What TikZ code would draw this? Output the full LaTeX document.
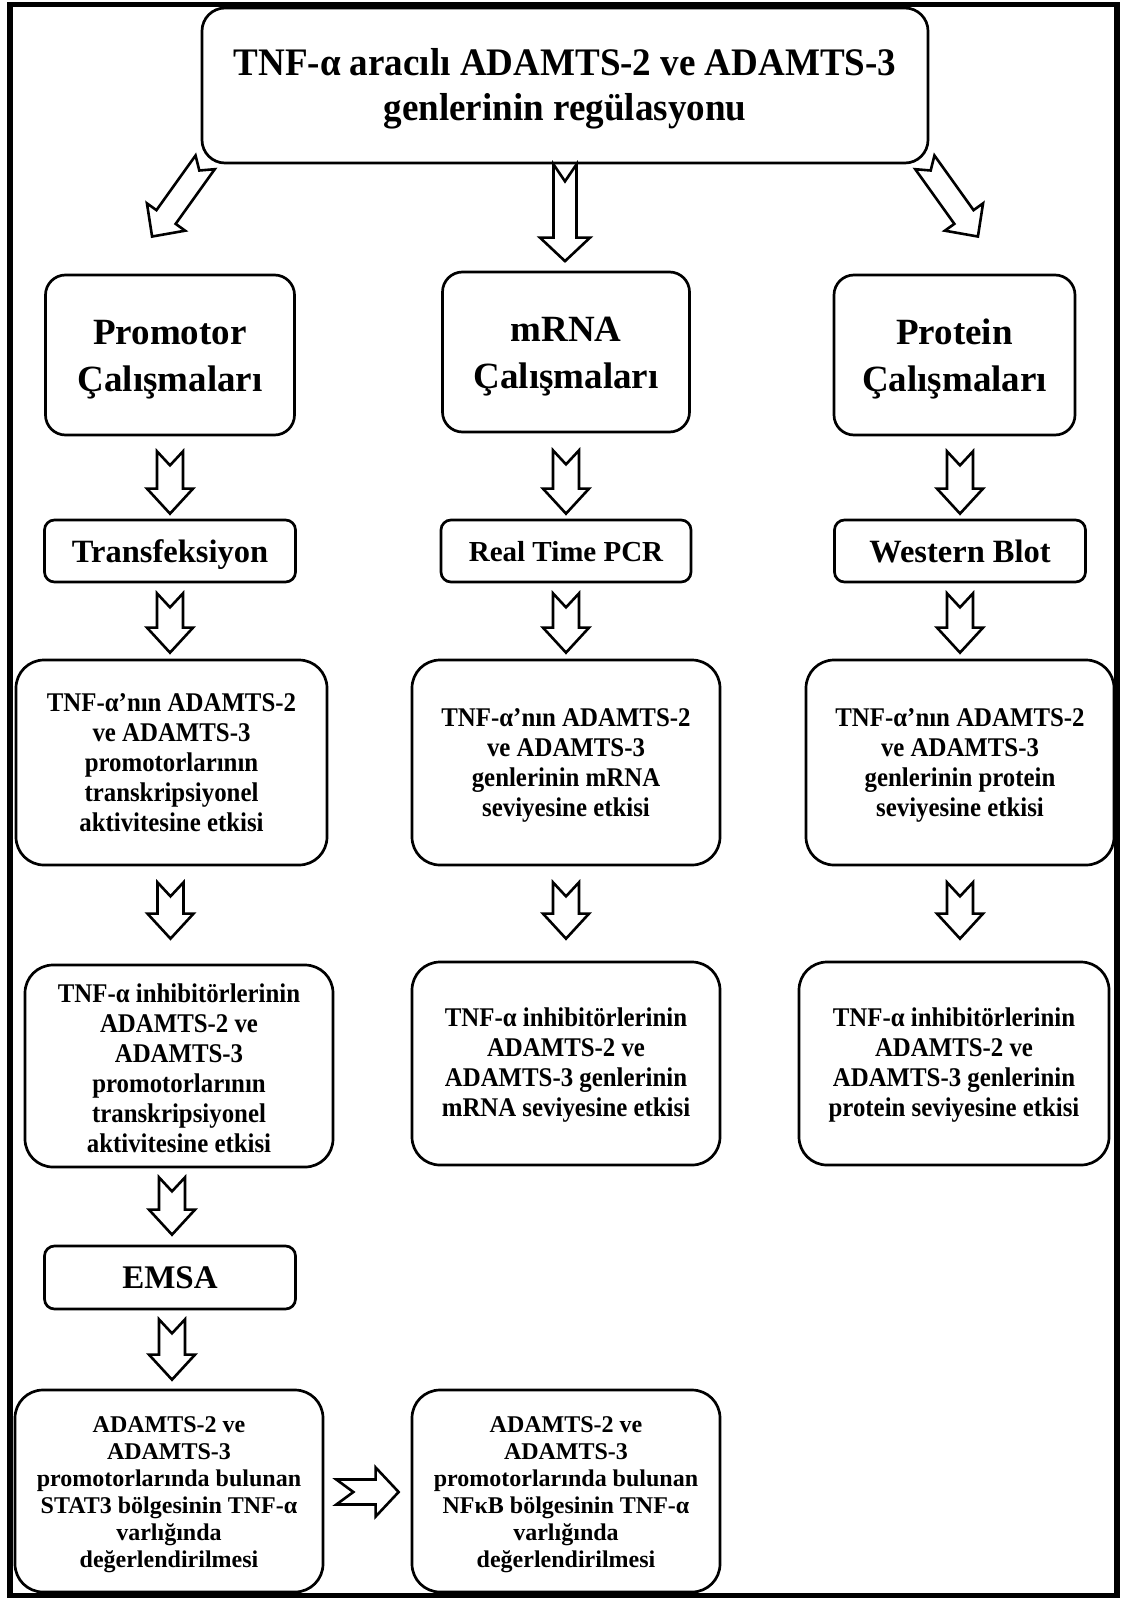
\documentclass[tikz,border=0pt]{standalone}
\usepackage{fontspec}
\setmainfont{Liberation Serif}
\newfontfamily\condfont[FakeStretch=0.92]{Liberation Serif}
\newfontfamily\topfont[FakeStretch=0.95]{Liberation Serif}
\usetikzlibrary{calc}
\tikzset{
  bx/.style={draw, line width=2.7pt, align=center, inner sep=0pt, fill=white},
  arr/.style={draw, line width=2.6pt, line join=miter, fill=white},
  ftop/.style={font=\topfont\fontsize{39}{45}\selectfont\bfseries},
  fhead/.style={font=\fontsize{37}{47}\selectfont\bfseries},
  fmeth/.style={font=\fontsize{32.5}{38}\selectfont\bfseries},
  fmid/.style={font=\condfont\fontsize{27}{30}\selectfont\bfseries},
  fsmall/.style={font=\fontsize{24}{27}\selectfont\bfseries},
}
% text block drawn #1 lower, keeping its reported size
\newcommand{\tb}[2][-4pt]{\raisebox{#1}[\height][\depth]{\begin{tabular}{@{}c@{}}#2\end{tabular}}}
% block arrow with notched tail: start, end, shaft half width, head half width, head length, notch depth
\newcommand{\barrow}[6]{%
  \path let \p1=#1, \p2=#2, \n1={atan2(\y2-\y1,\x2-\x1)}, \n2={veclen(\x2-\x1,\y2-\y1)} in
    \pgfextra{\xdef\bang{\n1}\xdef\blen{\n2}\xdef\bsx{\x1}\xdef\bsy{\y1}};
  \begin{scope}[shift={(\bsx,\bsy)}, rotate=\bang]
    \draw[arr] (0,#3) -- ({\blen-#5},#3) -- ({\blen-#5},#4) -- (\blen,0) -- ({\blen-#5},-#4) -- ({\blen-#5},-#3) -- (0,-#3) -- (#6,0) -- cycle;
  \end{scope}}
\begin{document}
\begin{tikzpicture}[x=1pt, y=-1pt]
\useasboundingbox (0,0) rectangle (1123,1598);
\fill[white] (0,0) rectangle (1123,1598);
\draw[line width=5.5pt] (10,4.5) rectangle (1117,1595.5);

% top
\node[bx, ftop, rounded corners=23pt, minimum width=726pt, minimum height=155pt] (top) at (565,85.5)
  {\tb[-3pt]{TNF-α aracılı ADAMTS-2 ve ADAMTS-3\\genlerinin regülasyonu}};

% row 2
\node[bx, fhead, rounded corners=20pt, minimum width=249pt, minimum height=160pt] (prom) at (170,355) {\tb[-4pt]{Promotor\\Çalışmaları}};
\node[bx, fhead, rounded corners=20pt, minimum width=247pt, minimum height=160pt] (mrna) at (566,352) {\tb[-4pt]{mRNA\\Çalışmaları}};
\node[bx, fhead, rounded corners=20pt, minimum width=241pt, minimum height=160pt] (prot) at (954.5,355) {\tb[-4pt]{Protein\\Çalışmaları}};

% row 3
\node[bx, fmeth, rounded corners=10pt, minimum width=251pt, minimum height=62pt] (tran) at (170,551) {\tb{Transfeksiyon}};
\node[bx, font=\fontsize{29}{34}\selectfont\bfseries, rounded corners=10pt, minimum width=250pt, minimum height=62pt] (rt) at (566,551) {\tb{Real Time PCR}};
\node[bx, fmeth, rounded corners=10pt, minimum width=251pt, minimum height=62pt] (wb) at (960,551) {\tb{Western Blot}};

% row 4
\node[bx, fmid, rounded corners=28pt, minimum width=311pt, minimum height=205pt] (f4L) at (171.5,762.5)
  {\tb[-3pt]{TNF-α’nın ADAMTS-2\\ve ADAMTS-3\\promotorlarının\\transkripsiyonel\\aktivitesine etkisi}};
\node[bx, fmid, rounded corners=28pt, minimum width=308pt, minimum height=205pt] (f4M) at (566,762.5)
  {\tb[-2.5pt]{TNF-α’nın ADAMTS-2\\ve ADAMTS-3\\genlerinin mRNA\\seviyesine etkisi}};
\node[bx, fmid, rounded corners=28pt, minimum width=308pt, minimum height=205pt] (f4R) at (960,762.5)
  {\tb[-2.5pt]{TNF-α’nın ADAMTS-2\\ve ADAMTS-3\\genlerinin protein\\seviyesine etkisi}};

% row 5
\node[bx, fmid, rounded corners=28pt, minimum width=308pt, minimum height=202pt] (f5L) at (179,1066)
  {\tb[-5pt]{TNF-α inhibitörlerinin\\ADAMTS-2 ve\\ADAMTS-3\\promotorlarının\\transkripsiyonel\\aktivitesine etkisi}};
\node[bx, fmid, rounded corners=28pt, minimum width=308pt, minimum height=203pt] (f5M) at (566,1063.5)
  {\tb[-2pt]{TNF-α inhibitörlerinin\\ADAMTS-2 ve\\ADAMTS-3 genlerinin\\mRNA seviyesine etkisi}};
\node[bx, fmid, rounded corners=28pt, minimum width=310pt, minimum height=203pt] (f5R) at (954,1063.5)
  {\tb[-2pt]{TNF-α inhibitörlerinin\\ADAMTS-2 ve\\ADAMTS-3 genlerinin\\protein seviyesine etkisi}};

% EMSA
\node[bx, font=\fontsize{33}{38}\selectfont\bfseries, rounded corners=10pt, minimum width=251pt, minimum height=63pt] (emsa) at (170,1277.5) {\tb[-3pt]{EMSA}};

% row 6
\node[bx, fsmall, rounded corners=28pt, minimum width=308pt, minimum height=202pt] (f6L) at (169,1491)
  {\tb[-4pt]{ADAMTS-2 ve\\ADAMTS-3\\promotorlarında bulunan\\STAT3 bölgesinin TNF-α\\varlığında\\değerlendirilmesi}};
\node[bx, fsmall, rounded corners=28pt, minimum width=308pt, minimum height=202pt] (f6M) at (566,1491)
  {\tb[-4pt]{ADAMTS-2 ve\\ADAMTS-3\\promotorlarında bulunan\\NFκB bölgesinin TNF-α\\varlığında\\değerlendirilmesi}};

% arrows from top
\barrow{($(top.south west)+(4.5,-2)$)}{($(prom.north)+(-18,-37)$)}{11.8}{23.5}{24}{10}
\barrow{(top.south)}{($(top.south |- mrna.north)+(0,-9.5)$)}{11.5}{25}{23.5}{17}
\barrow{($(top.south east)+(-4.5,-2)$)}{($(prot.north)+(23.5,-37)$)}{11.8}{23.5}{24}{10}

% row 2 -> row 3
\barrow{($(prom.south)+(0,15)$)}{($(prom.south |- tran.north)+(0,-5)$)}{13}{23}{25}{14}
\barrow{($(mrna.south)+(0,17)$)}{($(mrna.south |- rt.north)+(0,-5)$)}{13}{23}{25}{14}
\barrow{($(wb.north |- prot.south)+(0,15)$)}{($(wb.north)+(0,-5)$)}{13}{23}{25}{14}

% row 3 -> row 4
\barrow{($(tran.south)+(0,10)$)}{($(tran.south |- f4L.north)+(0,-6)$)}{13}{23}{25}{14}
\barrow{($(rt.south)+(0,10)$)}{($(rt.south |- f4M.north)+(0,-6)$)}{13}{23}{25}{14}
\barrow{($(wb.south)+(0,10)$)}{($(wb.south |- f4R.north)+(0,-6)$)}{13}{23}{25}{14}

% row 4 -> row 5
\barrow{($(f4L.south)+(-1,16)$)}{($(f4L.south |- f5L.north)+(-1,-25)$)}{13}{23}{25}{14}
\barrow{($(f4M.south)+(0,16)$)}{($(f4M.south |- f5M.north)+(0,-22)$)}{13}{23}{25}{14}
\barrow{($(f4R.south)+(0,16)$)}{($(f4R.south |- f5R.north)+(0,-22)$)}{13}{23}{25}{14}

% row 5 -> EMSA -> row 6
\barrow{($(emsa.north |- f5L.south)+(2,9)$)}{($(emsa.north)+(2,-10)$)}{13}{23}{25}{14}
\barrow{($(emsa.south)+(2,9)$)}{($(emsa.south |- f6L.north)+(2,-9)$)}{13}{23}{25}{14}

% horizontal
\barrow{($(f6L.east)+(12,1)$)}{($(f6M.west)+(-12,1)$)}{12.5}{24.5}{23}{17}
\end{tikzpicture}
\end{document}
